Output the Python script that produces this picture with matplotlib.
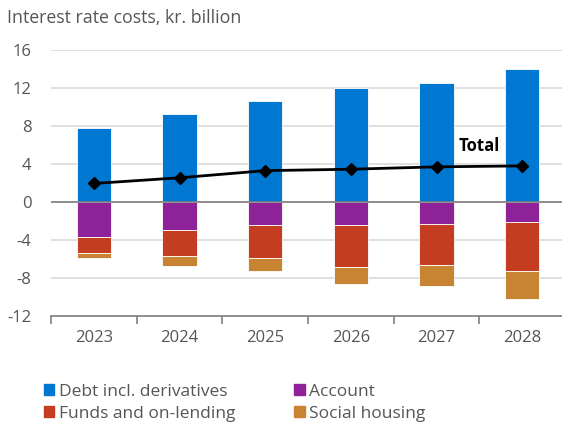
import numpy as np
import matplotlib.pyplot as plt
from matplotlib.patches import Patch
from matplotlib import rcParams

rcParams.update({
    "font.family": ["Open Sans", "DejaVu Sans"],
    "font.size": 12,
    "axes.unicode_minus": False,
})

years = ["2023", "2024", "2025", "2026", "2027", "2028"]
debt = [7.8, 9.3, 10.6, 12.0, 12.5, 14.0]
account = [-3.65, -2.9, -2.45, -2.4, -2.3, -2.15]
funds = [-1.75, -2.8, -3.45, -4.4, -4.35, -5.15]
social = [-0.45, -1.05, -1.4, -1.85, -2.15, -2.9]
total = [1.95, 2.55, 3.3, 3.45, 3.7, 3.8]

c_debt = "#0078d2"
c_account = "#8e2299"
c_funds = "#c43d21"
c_social = "#c88433"
txt = "#555555"

fig = plt.figure(figsize=(5.62, 4.23), dpi=100)
ax = fig.add_axes([51 / 562, 107 / 423, 514 / 562, 266 / 423])

x = np.arange(len(years))
w = 0.4
edge = dict(edgecolor="white", linewidth=0.6)
ax.bar(x, debt, w, color=c_debt, zorder=3, **edge)
ax.bar(x, account, w, color=c_account, zorder=3, **edge)
b1 = np.array(account)
ax.bar(x, funds, w, bottom=b1, color=c_funds, zorder=3, **edge)
b2 = b1 + np.array(funds)
ax.bar(x, social, w, bottom=b2, color=c_social, zorder=3, **edge)

ax.plot(x, total, color="black", lw=2, marker="D", markersize=6.5, zorder=5)
ax.text(4.5, 4.9, "Total", fontsize=12, fontweight="bold", ha="center", va="bottom", zorder=6)

ax.set_xlim(-0.5, 5.5)
ax.set_ylim(-12, 16)
ax.set_yticks(np.arange(-12, 17, 4))
ax.grid(axis="y", color="#d9d9d9", lw=1.2, zorder=0)
ax.axhline(0, color="#808080", lw=1.2, zorder=4)

ax.set_xticks(np.arange(-0.5, 6, 1))
ax.set_xticklabels([])
ax.set_xticks(x, minor=True)
ax.set_xticklabels(years, minor=True)
ax.tick_params(axis="x", which="major", length=6, width=1.2, color="#808080", direction="out")
ax.tick_params(axis="x", which="minor", length=0, pad=10, labelcolor=txt, labelsize=12)
ax.tick_params(axis="y", length=0, pad=14, labelcolor=txt, labelsize=12)

for s in ["top", "right", "left"]:
    ax.spines[s].set_visible(False)
ax.spines["bottom"].set_color("#808080")
ax.spines["bottom"].set_linewidth(1.2)

fig.text(7 / 562, 1 - 18 / 423, "Interest rate costs, kr. billion", color=txt,
         fontsize=12.8, va="center", ha="left")

handles = [Patch(color=c_debt), Patch(color=c_funds), Patch(color=c_account), Patch(color=c_social)]
labels = ["Debt incl. derivatives", "Funds and on-lending", "Account", "Social housing"]
fig.legend(handles, labels, ncol=2, loc="upper left", bbox_to_anchor=(44 / 562, 1 - 384 / 423),
           frameon=False, handlelength=0.6, handleheight=0.6, handletextpad=0.25,
           columnspacing=3.4, labelspacing=0.35, labelcolor=txt, fontsize=12.5,
           borderpad=0, borderaxespad=0)

fig.savefig("out.png", dpi=100)
